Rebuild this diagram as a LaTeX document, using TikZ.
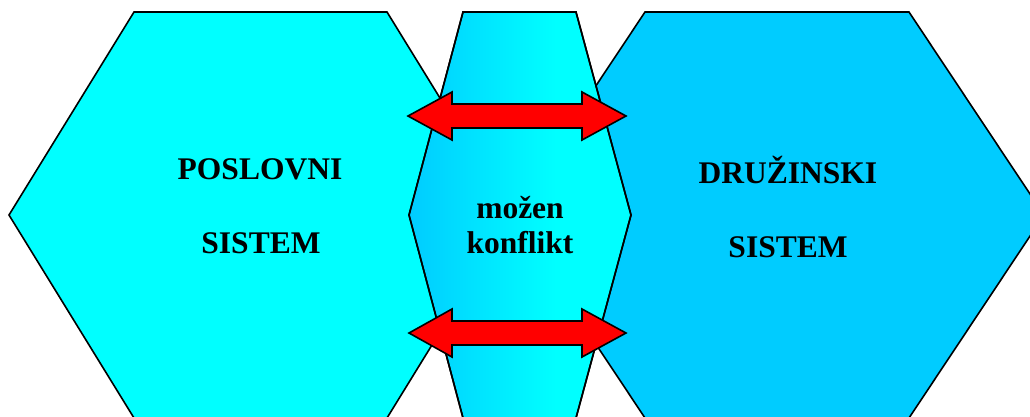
\documentclass[tikz,border=0pt]{standalone}
\usepackage{fontspec}
\setmainfont{Liberation Serif}
\definecolor{hexcyan}{RGB}{0,255,255}
\definecolor{hexblue}{RGB}{0,204,255}
% left-to-right fade for the overlap hexagon
\pgfdeclarehorizontalshading{midshade}{100bp}{color(0bp)=(hexblue); color(25bp)=(hexblue); color(58bp)=(hexcyan); color(100bp)=(hexcyan)}
\begin{document}
\begin{tikzpicture}[x=1pt,y=-1pt,
  hexline/.style={draw=black,line width=1.6pt,line join=miter},
  lbl/.style={font=\bfseries\fontsize{31.5}{36}\selectfont,anchor=base,inner sep=0pt},
  blockarrow/.style={draw=black,fill=red,line width=1.6pt,line join=miter}]
\useasboundingbox (0,0) rectangle (1030,416);
\begin{scope}
\clip (0,0) rectangle (1030,416);
% business system hexagon
\path[hexline,fill=hexcyan] (9,215) -- (134,12) -- (387,12) -- (512,215) -- (387,418) -- (134,418) -- cycle;
% family system hexagon
\path[hexline,fill=hexblue] (510,215) -- (645,12) -- (909,12) -- (1044,215) -- (909,418) -- (645,418) -- cycle;
% overlap: possible conflict
\path[hexline,shading=midshade,shading angle=0] (409,215) -- (463,12) -- (576,12) -- (631,215) -- (576,418) -- (463,418) -- cycle;
\draw[line width=1.6pt] (409,215) -- (463,12) -- (576,12) -- (631,215) -- (576,418) -- (463,418) -- cycle;
\end{scope}
% double-headed block arrows
\path[blockarrow] (408,116) -- (452,92) -- (452,104) -- (582,104) -- (582,92) -- (626,116) -- (582,140) -- (582,128) -- (452,128) -- (452,140) -- cycle;
\path[blockarrow] (409,333) -- (452,309) -- (452,321) -- (582,321) -- (582,309) -- (626,333) -- (582,357) -- (582,345) -- (452,345) -- (452,357) -- cycle;
% labels
\node[lbl] (poslovni) at (260,179) {POSLOVNI};
\node[lbl] (sistemL) at (261,253) {SISTEM};
\node[lbl] (druzinski) at (788,183) {DRUŽINSKI};
\node[lbl] (sistemR) at (788,257) {SISTEM};
\node[lbl] (mozen) at (520,218) {možen};
\node[lbl] (konflikt) at (520,253) {konflikt};
\end{tikzpicture}
\end{document}
